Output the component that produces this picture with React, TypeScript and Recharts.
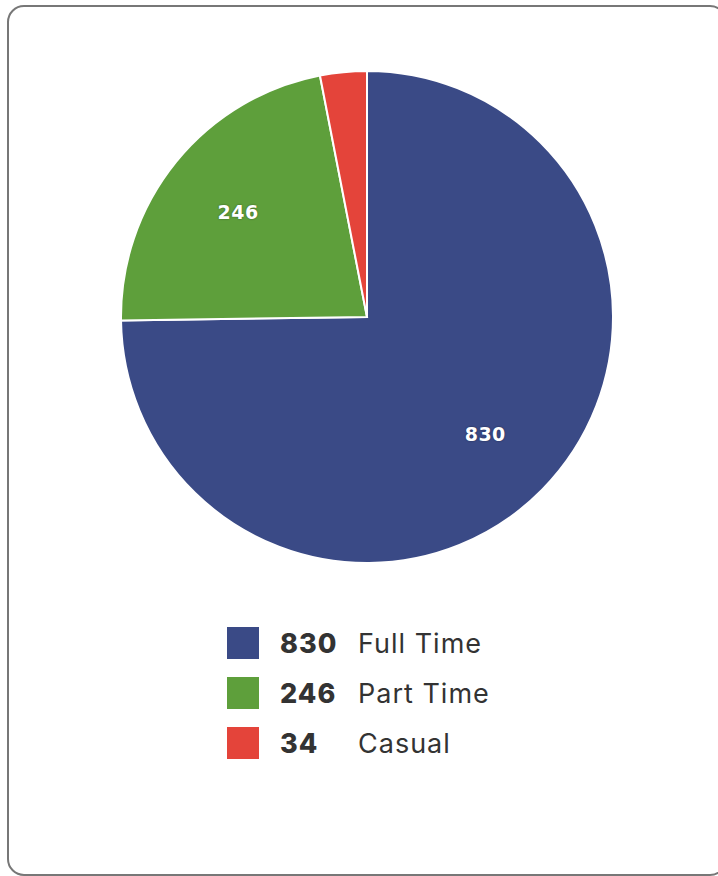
import React from "react";
import { PieChart, Pie, Cell, Legend } from "recharts";

const categories = ["Full Time", "Part Time", "Casual"];
const values = [830, 246, 34];
const colors = ["#3A4A86", "#5E9F3B", "#E4443A"];

const data = categories.map((name, i) => ({ name, value: values[i], color: colors[i] }));

const RADIAN = Math.PI / 180;

const renderLabel = (props: any) => {
  const { cx, cy, midAngle, outerRadius, value } = props;
  if (value < 100) return null;
  const r = outerRadius * 0.675;
  const x = cx + r * Math.cos(-midAngle * RADIAN);
  const y = cy + r * Math.sin(-midAngle * RADIAN);
  return (
    <text
      x={x}
      y={y}
      fill="#ffffff"
      textAnchor="middle"
      dominantBaseline="central"
      style={{
        fontFamily: "'DejaVu Sans', sans-serif",
        fontWeight: 700,
        fontSize: 19,
        letterSpacing: 0.5,
        textShadow: "0 0 2px rgba(0,0,0,0.45)",
      }}
    >
      {value}
    </text>
  );
};

const renderLegend = () => (
  <div style={{ fontFamily: "Inter, 'Open Sans', sans-serif", color: "#333333" }}>
    {data.map((d) => (
      <div key={d.name} style={{ display: "flex", alignItems: "center", height: 50 }}>
        <div style={{ width: 32, height: 32, background: d.color }} />
        <div
          style={{
            marginLeft: 21,
            width: 78,
            fontSize: 27,
            fontWeight: 800,
            letterSpacing: 1,
          }}
        >
          {d.value}
        </div>
        <div style={{ fontSize: 27, fontWeight: 400, letterSpacing: 1 }}>{d.name}</div>
      </div>
    ))}
  </div>
);

export default function App() {
  return (
    <div
      style={{
        position: "fixed",
        left: 0,
        top: 0,
        width: 718,
        height: 876,
        overflow: "hidden",
        background: "#ffffff",
      }}
    >
      <div
        style={{
          position: "absolute",
          left: 7,
          top: 5,
          width: 716,
          height: 867,
          border: "2px solid #777777",
          borderRadius: 17,
        }}
      />
      <div style={{ position: "absolute", left: 0, top: 0 }}>
        <PieChart width={718} height={876} margin={{ top: 0, right: 0, bottom: 0, left: 0 }}>
          <Pie
            data={data}
            dataKey="value"
            nameKey="name"
            cx={367}
            cy={317}
            outerRadius={246}
            startAngle={90}
            endAngle={-270}
            stroke="#ffffff"
            strokeWidth={2}
            label={renderLabel}
            labelLine={false}
            isAnimationActive={false}
          >
            {data.map((d) => (
              <Cell key={d.name} fill={d.color} />
            ))}
          </Pie>
          <Legend
            content={renderLegend}
            wrapperStyle={{ position: "absolute", left: 227, top: 618, width: 400 }}
          />
        </PieChart>
      </div>
    </div>
  );
}
